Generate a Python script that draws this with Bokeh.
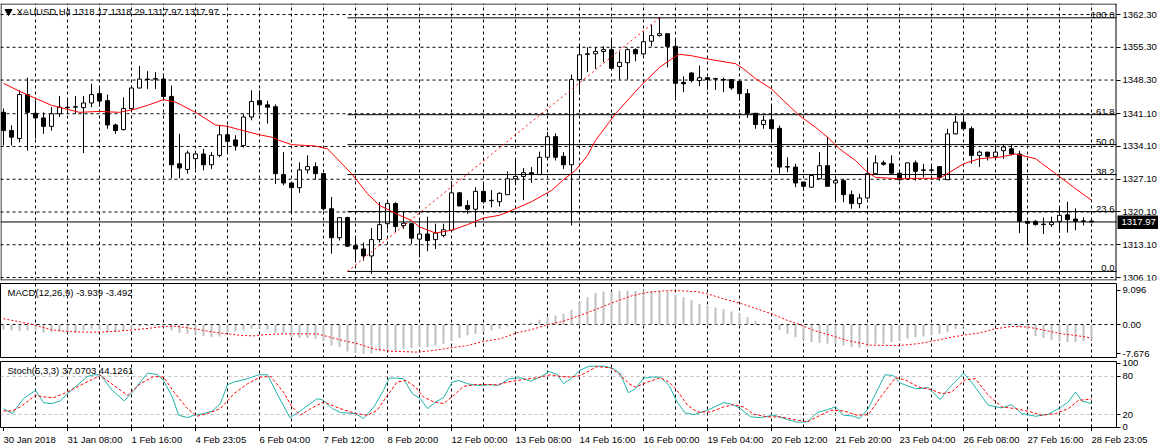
from bokeh.plotting import figure
from bokeh.layouts import column
from bokeh.models import Range1d, FixedTicker, PrintfTickFormatter, Grid, LinearAxis
from bokeh.core.properties import value
from bokeh.embed import file_html
from bokeh.resources import INLINE

FONT = "Liberation Sans"
FS = "9.5px"
FS_PX = 9.5

# ---------------- data ----------------
open_ = [1341.4, 1337.5, 1335.8, 1345.2, 1341.2, 1340.2, 1338.4, 1341.1, 1342.5, 1342.5,
 1342.4, 1343.4, 1345.4, 1343.9, 1338.7, 1337.7, 1342.2, 1346.6, 1348.5, 1348.5,
 1348.5, 1344.8, 1330.4, 1329.2, 1331.5, 1332.5, 1330.2, 1332.2, 1336.6, 1335.5,
 1334.3, 1340.4, 1343.9, 1343.0, 1342.6, 1328.1, 1326.3, 1325.3, 1329.1, 1329.8,
 1328.3, 1320.8, 1314.6, 1318.9, 1312.9, 1312.2, 1310.7, 1314.2, 1317.6, 1321.9,
 1317.2, 1317.6, 1314.3, 1315.4, 1314.2, 1315.1, 1316.2, 1324.2, 1321.5, 1320.7,
 1324.5, 1322.5, 1322.3, 1323.8, 1327.2, 1327.7, 1328.5, 1328.1, 1331.8, 1336.2,
 1332.0, 1330.2, 1348.4, 1353.9, 1353.9, 1354.4, 1354.8, 1351.2, 1352.0, 1354.8,
 1353.9, 1356.6, 1357.8, 1358.2, 1355.5, 1347.8, 1349.8, 1348.2, 1348.8, 1348.6,
 1348.4, 1348.4, 1348.0, 1345.4, 1341.2, 1338.8, 1339.8, 1338.0, 1329.8, 1329.7,
 1326.5, 1325.4, 1327.2, 1330.0, 1326.3, 1326.8, 1323.8, 1321.9, 1323.1, 1328.3,
 1330.6, 1330.4, 1328.4, 1327.2, 1330.6, 1329.1, 1329.1, 1329.8, 1327.0, 1336.8,
 1339.3, 1337.9, 1332.2, 1332.9, 1332.0, 1333.2, 1333.6, 1332.5, 1318.1, 1318.1,
 1317.4, 1317.4, 1318.1, 1319.5, 1318.6, 1318.1, 1318.17]
high = [1342.2, 1338.6, 1346.1, 1348.8, 1343.9, 1341.4, 1342.5, 1344.9, 1344.3, 1344.9,
 1344.9, 1347.5, 1346.8, 1345.2, 1339.0, 1344.6, 1347.1, 1351.3, 1350.2, 1350.0,
 1349.1, 1347.1, 1336.8, 1333.2, 1333.2, 1333.6, 1332.9, 1338.6, 1338.6, 1336.5,
 1341.1, 1346.1, 1346.1, 1343.9, 1343.1, 1332.9, 1326.3, 1330.7, 1332.2, 1330.7,
 1328.4, 1323.3, 1319.0, 1319.1, 1314.7, 1313.6, 1316.7, 1322.2, 1322.2, 1322.2,
 1320.3, 1317.7, 1318.3, 1319.1, 1317.6, 1317.6, 1326.7, 1324.3, 1322.6, 1325.4,
 1326.5, 1324.8, 1324.3, 1328.8, 1331.5, 1329.5, 1329.7, 1333.0, 1337.2, 1336.9,
 1332.9, 1349.5, 1355.7, 1355.3, 1355.3, 1355.5, 1357.1, 1354.4, 1355.1, 1355.1,
 1358.2, 1360.1, 1361.6, 1358.2, 1357.1, 1349.1, 1350.0, 1351.4, 1348.8, 1348.8,
 1348.8, 1348.4, 1348.0, 1346.4, 1341.2, 1340.7, 1343.2, 1338.6, 1331.8, 1330.4,
 1326.5, 1328.1, 1332.9, 1336.1, 1327.2, 1327.2, 1324.7, 1324.0, 1331.5, 1332.2,
 1331.1, 1332.2, 1328.6, 1330.6, 1331.1, 1330.4, 1330.0, 1329.8, 1337.9, 1340.7,
 1340.7, 1338.4, 1333.2, 1332.9, 1334.3, 1334.5, 1334.5, 1333.2, 1318.1, 1318.4,
 1318.9, 1319.1, 1321.3, 1322.3, 1320.9, 1319.0, 1318.29]
low = [1334.3, 1334.3, 1335.0, 1333.2, 1335.8, 1336.8, 1337.5, 1340.4, 1341.1, 1341.1,
 1332.7, 1342.5, 1342.9, 1337.9, 1336.8, 1337.5, 1341.8, 1346.5, 1346.4, 1346.4,
 1344.4, 1327.3, 1327.3, 1328.3, 1329.3, 1329.0, 1329.3, 1331.8, 1332.6, 1333.2,
 1333.9, 1339.7, 1341.4, 1339.0, 1326.1, 1325.8, 1319.7, 1324.2, 1328.3, 1327.0,
 1320.4, 1311.2, 1314.0, 1312.6, 1309.7, 1309.7, 1306.9, 1313.6, 1316.5, 1315.8,
 1316.5, 1313.3, 1310.4, 1311.7, 1312.2, 1314.7, 1315.8, 1321.3, 1319.7, 1316.9,
 1321.9, 1321.1, 1321.3, 1323.8, 1325.8, 1322.6, 1326.3, 1328.1, 1331.5, 1331.1,
 1329.3, 1317.2, 1345.2, 1350.0, 1350.7, 1352.1, 1350.7, 1348.4, 1348.4, 1352.3,
 1353.5, 1355.5, 1357.6, 1351.0, 1344.6, 1345.7, 1347.8, 1347.0, 1346.2, 1346.2,
 1345.7, 1346.2, 1343.9, 1340.2, 1337.9, 1337.9, 1335.4, 1328.3, 1328.6, 1325.4,
 1324.7, 1325.3, 1327.2, 1325.6, 1322.2, 1322.2, 1320.8, 1320.9, 1322.9, 1328.3,
 1330.0, 1328.3, 1326.8, 1327.0, 1326.8, 1327.5, 1328.3, 1326.8, 1327.0, 1336.7,
 1337.5, 1330.4, 1329.7, 1331.1, 1331.5, 1331.5, 1332.2, 1315.6, 1313.1, 1317.2,
 1315.4, 1316.9, 1315.7, 1315.7, 1316.2, 1317.2, 1317.97]
close = [1337.5, 1336.1, 1345.2, 1341.4, 1340.2, 1338.4, 1341.1, 1342.5, 1342.4, 1342.6,
 1343.4, 1345.2, 1343.8, 1338.7, 1337.5, 1342.2, 1346.6, 1348.5, 1348.4, 1348.6,
 1344.8, 1330.2, 1329.5, 1332.7, 1332.5, 1330.2, 1332.2, 1336.6, 1335.2, 1334.3,
 1340.4, 1343.7, 1343.0, 1342.5, 1328.3, 1326.3, 1325.3, 1329.1, 1329.8, 1328.3,
 1320.8, 1314.6, 1318.9, 1312.8, 1312.2, 1310.7, 1314.2, 1317.4, 1321.9, 1317.0,
 1317.7, 1314.5, 1315.4, 1314.0, 1315.6, 1316.3, 1324.2, 1321.4, 1320.7, 1324.5,
 1322.3, 1322.6, 1324.1, 1327.2, 1327.7, 1328.5, 1328.1, 1331.8, 1336.2, 1331.8,
 1330.2, 1348.4, 1353.7, 1353.8, 1354.4, 1354.8, 1350.8, 1352.1, 1354.8, 1353.9,
 1356.5, 1357.8, 1358.2, 1355.5, 1347.6, 1347.5, 1348.2, 1348.8, 1348.4, 1348.5,
 1348.3, 1346.6, 1345.4, 1341.2, 1338.8, 1339.7, 1337.9, 1329.7, 1329.7, 1326.3,
 1325.6, 1327.9, 1330.0, 1325.6, 1326.8, 1323.8, 1321.9, 1323.1, 1328.3, 1330.6,
 1330.3, 1328.4, 1327.0, 1330.6, 1328.8, 1329.0, 1329.0, 1327.5, 1336.8, 1339.3,
 1337.9, 1332.2, 1332.9, 1332.0, 1332.9, 1334.0, 1332.5, 1318.1, 1317.7, 1317.4,
 1317.5, 1317.9, 1319.4, 1318.5, 1318.1, 1318.2, 1317.97]

ma_x = [0, 2, 6, 9.5, 12, 14.5, 16.5, 18, 20, 21.5, 24, 26.5, 28, 29.5, 32, 33.5, 34.5, 36, 39, 40.5,
 43.5, 45.5, 47, 49.5, 51, 52, 54, 56, 58, 60, 62, 64, 66, 68.5, 70, 71.5, 73, 74, 76.5, 79.5,
 82, 83.5, 84.5, 86, 88, 91.5, 92.5, 94, 96, 97.5, 99.5, 101.5, 103, 104.5, 106.5, 108, 109, 112, 114.5, 117,
 118, 120, 122, 124.5, 126.5, 129, 131.5, 134, 136]
ma_v = [1347.6, 1345.9, 1342.9, 1341.4, 1341.6, 1341.4, 1342.1, 1342.9, 1344.1, 1343.6,
 1341.4, 1338.7, 1338.4, 1337.7, 1336.6, 1336.1, 1335.4, 1334.5, 1334.2, 1333.6,
 1328.3, 1324.0, 1321.5, 1319.4, 1318.3, 1316.9, 1315.6, 1316.2, 1317.4, 1318.8,
 1319.4, 1320.8, 1322.3, 1324.7, 1327.0, 1329.0, 1332.2, 1335.4, 1341.1, 1346.8,
 1351.0, 1352.8, 1353.8, 1353.5, 1352.8, 1351.8, 1350.7, 1348.6, 1346.4, 1343.9,
 1340.7, 1338.2, 1336.1, 1333.6, 1331.1, 1328.6, 1327.5, 1327.2, 1327.3, 1327.3,
 1328.3, 1330.4, 1331.5, 1331.8, 1332.5, 1331.5, 1328.3, 1325.1, 1322.6]

macd_hist = [-1.24, -1.5, -1.68, -1.5, -1.5, -2.1, -1.95, -1.77, -1.95, -2.12,
 -1.5, -1.06, -1.33, -1.95, -1.95, -1.5, -0.88, -0.44, -0.35, -0.35,
 -0.62, -1.5, -2.12, -2.39, -2.39, -3.0, -3.27, -3.1, -2.2, -1.77,
 -1.5, -1.06, -0.88, -1.33, -2.2, -2.2, -3.45, -3.45, -3.45, -3.7,
 -4.2, -5.5, -5.9, -7.1, -7.5, -7.676, -7.6, -6.8, -6.8, -6.8,
 -6.4, -6.1, -5.9, -5.9, -5.5, -5.0, -4.2, -3.45, -2.8, -2.4,
 -1.95, -1.5, -1.06, -0.44, 0.05, 0.44, 0.7, 1.33, 2.03, 2.48,
 2.9, 4.0, 6.0, 7.3, 8.4, 8.8, 8.8, 9.0, 9.05, 9.05,
 9.096, 9.05, 9.0, 8.8, 7.9, 7.3, 6.5, 5.6, 5.0, 4.6,
 4.1, 3.5, 2.9, 2.0, 1.0, 0.44, 0.1, -1.3, -2.4, -3.3,
 -4.0, -4.6, -4.8, -5.0, -5.2, -5.5, -5.9, -6.1, -5.9, -5.0,
 -5.0, -4.6, -4.2, -3.7, -3.3, -3.1, -2.8, -2.4, -1.95, -1.06,
 -0.62, -0.18, -0.05, 0.1, 0.2, 0.27, 0.2, -0.6, -1.3, -3.0,
 -3.45, -4.0, -4.4, -4.6, -4.6, -4.3, -3.939]
sig_x = [0, 2, 3.8, 6, 8, 10, 12.1, 14.2, 16.3, 18.4, 20, 21.3, 23, 24.6, 26.3, 28, 29.6, 31.3, 33, 35,
 36, 39.2, 40, 42.1, 44.2, 46.3, 48.4, 51.7, 53.8, 55.9, 58, 60, 62.1, 64.2, 65.9, 68, 70, 72.1,
 74.2, 76.3, 78.4, 80.5, 82.5, 84.2, 86.7, 88, 90, 92.1, 94.2, 96.3, 98, 99.6, 101.3, 103.4, 105.5, 107.5, 108.4,
 111.9, 114.4, 116.5, 118.5, 120.2, 121.9, 124, 126, 128.1, 130.2, 132.3, 133.9, 136]
sig_v = [1.6, 0.8, 0.0, -1.33, -1.77, -1.95, -1.95, -1.7, -1.33, -0.88, -0.44, -0.35, -0.8, -1.33, -1.95, -2.4, -2.8, -2.95, -2.56, -2.4,
 -2.4, -2.4, -2.83, -4.0, -5.0, -6.4, -7.0, -7.25, -6.8, -6.1, -5.5, -4.4, -3.7, -2.1, -1.33, 0.0, 0.97, 2.5,
 4.2, 6.0, 7.6, 8.6, 9.0, 9.05, 8.8, 8.2, 6.9, 5.7, 4.2, 2.7, 1.15, 0.0, -1.5, -2.8, -4.2, -5.0, -5.4,
 -5.5, -5.0, -4.2, -3.3, -2.65, -2.2, -1.06, -0.44, -0.6, -1.5, -2.4, -2.8, -3.492]

k_x = [0, 1.1, 2.5, 4, 5, 6, 7.1, 8.2, 9.2, 10.5, 11.3, 12.1, 13.6, 15.1, 16.3, 18, 19.2, 20, 21.1, 21.9, 23, 23.8, 25, 26.1, 27.1, 28, 28.8, 30.5, 31.9, 33, 34.2, 35.8,
 37.5, 39.2, 40, 41.1, 42.1, 44, 45, 46.3, 47.5, 48.2, 49.2, 50, 51.1, 52.1, 53, 54, 55, 56.1, 56.9, 58, 59.2, 60.9, 61.9, 63.2, 64.6, 65.9, 67.1, 68.2, 69.2, 70, 71.1, 72.1,
 73.2, 75.1, 76.3, 77.1, 78.1, 79, 80, 81.1, 82.1, 83.2, 84.2, 85.2, 86.3, 88, 90, 91.1, 92.1, 93.4, 94.6, 96.3, 98, 99.2, 100.5, 101.7, 103, 104, 105, 106.1, 107, 108.1,
 109, 110.2, 111.2, 112.1, 114, 115.6, 117.1, 118.1, 120, 121, 123.1, 124.8, 126, 127.3, 129, 130.6, 132.1, 133.1, 134, 134.8, 136]
k_v = [29.3, 21.6, 44.9, 57.8, 38.6, 37.1, 41.3, 55.3, 65.6, 79.6, 82.2, 82.2, 57.8, 41.3, 57.8, 84.8, 82.7, 73.4, 47.5, 19.0, 15.3, 19.0, 21.6, 25.7, 37.1, 66.6, 70.8, 76.0, 82.2, 82.2, 52.6, 15.0,
 29.3, 44.9, 42.3, 29.3, 23.1, 21.6, 13.8, 31.9, 57.8, 77.0, 77.0, 76.0, 52.6, 44.9, 29.3, 39.7, 46.4, 70.8, 73.4, 68.2, 65.6, 66.6, 65.6, 76.0, 77.5, 72.3, 78.6, 87.4, 82.7, 68.2, 77.5, 89.5,
 95.6, 95.6, 91.5, 83.7, 54.2, 60.4, 77.0, 78.6, 78.6, 65.6, 39.7, 22.6, 20.0, 26.7, 38.6, 36.1, 29.3, 16.4, 15.3, 19.0, 12.2, 8.1, 8.6, 23.1, 27.8, 31.9, 19.0, 17.9, 13.8, 29.3,
 52.6, 82.2, 81.2, 69.2, 60.4, 62.0, 43.3, 60.4, 84.8, 70.8, 34.5, 30.4, 35.5, 21.6, 17.4, 20.5, 30.9, 39.7, 55.3, 41.3, 37.07]
d_x = [0, 1.1, 2.1, 4, 5, 6.3, 8, 10, 12.1, 13.4, 15.5, 17.1, 18.8, 20, 21.3, 23, 24.2, 25.5, 27.1, 28.8, 30.5, 32.1, 33.4, 35, 36, 37.1, 38.4,
 40, 42.1, 44, 45.5, 46.7, 48, 49.2, 50.3, 51.5, 52.5, 53.8, 55, 56.3, 57.5, 59.2, 61.7, 63, 65, 66.7, 68.4, 69.6, 70.9, 72.1,
 74.2, 75.9, 76.9, 78.2, 79, 80.5, 82.1, 83.2, 84.2, 85.5, 86.7, 88.4, 90, 91.3, 92.5, 93.8, 95.5, 97.1, 98.8, 100.5, 102.1, 103.4, 105, 106.7, 108.1,
 109.8, 111.5, 112.7, 114.4, 116, 117.3, 118.5, 120.2, 121.5, 123.1, 124.8, 126.5, 128.1, 129.8, 131.5, 133.1, 134.4, 136]
d_v = [25.7, 25.7, 31.9, 50.1, 47.5, 46.4, 55.3, 68.2, 81.2, 69.2, 50.1, 68.2, 79.6, 78.6, 55.3, 29.3, 17.4, 21.6, 29.3, 52.6, 68.2, 78.6, 79.6, 55.0, 33.0, 19.0, 29.3,
 39.7, 29.3, 21.6, 19.0, 26.7, 50.1, 70.8, 73.4, 63.0, 47.5, 39.7, 37.1, 50.1, 64.1, 67.2, 66.6, 70.8, 74.9, 77.5, 82.2, 79.6, 78.6, 81.0,
 95.1, 93.0, 83.7, 68.2, 63.0, 70.8, 77.5, 70.8, 57.8, 34.5, 24.1, 24.1, 31.9, 35.5, 31.9, 20.5, 16.4, 16.4, 12.2, 8.6, 19.0, 26.7, 25.7, 19.0, 20.0,
 50.1, 77.5, 74.4, 63.0, 58.8, 52.6, 55.3, 74.4, 76.0, 50.1, 31.9, 29.3, 25.1, 19.0, 21.6, 29.3, 42.3, 44.13]

time_idx = [0, 8, 16, 24, 32, 40, 48, 56, 64, 72, 80, 88, 96, 104, 112, 120, 128, 136]
time_labels = ["30 Jan 2018", "31 Jan 08:00", "1 Feb 16:00", "4 Feb 23:05", "6 Feb 04:00",
               "7 Feb 12:00", "8 Feb 20:00", "12 Feb 00:00", "13 Feb 08:00", "14 Feb 16:00",
               "16 Feb 00:00", "19 Feb 04:00", "20 Feb 12:00", "21 Feb 20:00", "23 Feb 04:00",
               "26 Feb 08:00", "27 Feb 16:00", "28 Feb 23:05"]
price_ticks = [1306.1, 1313.1, 1320.1, 1327.1, 1334.1, 1341.1, 1348.3, 1355.3, 1362.3]
macd_ticks = [-7.676, 0.0, 9.096]
macd_tick_labels = ["-7.676", "0.00", "9.096"]
stoch_ticks = [0, 20, 80, 100]
stoch_levels = [20, 80]

fib_levels = [0.0, 23.6, 38.2, 50.0, 61.8, 100.0]
fib_labels = ["0.0", "23.6", "38.2", "50.0", "61.8", "100.0"]
fib_low, fib_high = 1307.4, 1361.6
fib_start, fib_end = 43, 82
last_price = 1317.97
last_price_text = "1317.97"
title_main = "XAUUSD,H4  1318.17 1318.29 1317.97 1317.97"
title_macd = "MACD(12,26,9) -3.939 -3.492"
title_stoch = "Stoch(5,3,3) 37.0703 44.1261"

# ---------------- layout ----------------
N = len(close)
xs = list(range(N))
FRAME_W = 1116
PAGE_W = 1158
X0 = -0.375
X1 = X0 + FRAME_W / 8.0          # right edge of the chart area
XP = X0 + PAGE_W / 8.0           # right edge of the page
xr = Range1d(X0, X1)

P_TOP, P_BOT, P_H, P_T = 1364.66, 1305.46, 277, 3
M_TOP, M_BOT, M_H, M_T = 10.95, -8.94, 75, 283
S_TOP, S_BOT, S_H, S_T = 102.95, -0.2, 66, 361
DY = (P_TOP - P_BOT) / P_H        # price units per pixel in main pane

# Liberation Sans (Arial-metric) advance widths, per 1000 em
ADV = {" ": 278, ":": 278, "J": 500, "F": 611}


def text_px(txt):
    return sum(ADV.get(ch, 556) for ch in txt) * FS_PX / 1000.0


def px_x(px):
    return X0 + px / 8.0


def py(pyv, top, bot, h, t):
    return top - (pyv - t) * (top - bot) / h


def style_axis(ax):
    ax.axis_line_color = None
    ax.major_tick_in = 0
    ax.major_tick_out = 4
    ax.minor_tick_in = 0
    ax.minor_tick_out = 0
    ax.major_tick_line_color = "black"
    ax.major_label_standoff = 2
    ax.major_label_text_font = FONT
    ax.major_label_text_font_size = FS
    ax.major_label_text_color = "black"


def vgrid():
    return Grid(dimension=0, ticker=FixedTicker(ticks=list(range(4, N, 4))),
                grid_line_color="black", grid_line_dash="3 3", grid_line_width=1)


def mk(h, border_top, border_bottom, yr):
    p = figure(frame_width=FRAME_W, frame_height=h, x_range=xr, y_range=yr,
               output_backend="svg", toolbar_location=None, tools="",
               x_axis_location=None, y_axis_location="right",
               min_border_left=0, min_border_right=42,
               min_border_top=border_top, min_border_bottom=border_bottom)
    p.outline_line_color = "black"
    p.outline_line_alpha = 1.0
    p.outline_line_width = 1
    p.background_fill_color = "white"
    p.border_fill_color = "white"
    p.grid.visible = False
    for ax in p.yaxis:
        style_axis(ax)
    p.add_layout(vgrid())
    return p


# ---- main pane: frame spans the page, price scale drawn at the chart's right edge ----
p1 = figure(frame_width=PAGE_W, frame_height=P_H, x_range=Range1d(X0, XP),
            y_range=Range1d(P_BOT, P_TOP), output_backend="svg", toolbar_location=None,
            tools="", x_axis_location=None, y_axis_location="right",
            min_border_left=0, min_border_right=0, min_border_top=P_T, min_border_bottom=3)
p1.outline_line_color = None
p1.background_fill_color = "white"
p1.border_fill_color = "white"
p1.grid.visible = False
pax = p1.yaxis[0]
style_axis(pax)
pax.fixed_location = X1
pax.ticker = FixedTicker(ticks=price_ticks)
pax.formatter = PrintfTickFormatter(format="%.2f")
p1.add_layout(vgrid())
# horizontal price grid, limited to the chart area
p1.segment(x0=[X0] * len(price_ticks), y0=price_ticks, x1=[X1] * len(price_ticks), y1=price_ticks,
           line_color="black", line_dash="3 3", line_width=1, level="underlay")
# pane border
p1.segment(x0=[X0, X0, px_x(0.5), px_x(FRAME_W - 0.5)],
           y0=[P_TOP - 0.5 * DY, P_BOT + 0.5 * DY, P_BOT, P_BOT],
           x1=[X1, X1, px_x(0.5), px_x(FRAME_W - 0.5)],
           y1=[P_TOP - 0.5 * DY, P_BOT + 0.5 * DY, P_TOP, P_TOP],
           line_color="black", line_width=1)

body_top = [max(o, c) for o, c in zip(open_, close)]
body_bot = [min(o, c) for o, c in zip(open_, close)]
fills = ["white" if c >= o else "black" for o, c in zip(open_, close)]
p1.segment(x0=xs, y0=low, x1=xs, y1=high, line_color="black", line_width=1)
p1.vbar(x=xs, top=body_top, bottom=body_bot, width=0.5, fill_color=fills,
        line_color="black", line_width=1)

fib_prices = [fib_low + (fib_high - fib_low) * l / 100.0 for l in fib_levels]
p1.segment(x0=[fib_start] * len(fib_prices), y0=fib_prices, x1=[X1] * len(fib_prices), y1=fib_prices,
           line_color="black", line_width=1)
p1.text(x=[px_x(1114)] * len(fib_prices), y=fib_prices, text=fib_labels,
        text_align="right", text_baseline="bottom", text_font=value(FONT),
        text_font_size=FS, text_color="black")
p1.line([fib_start, fib_end], [fib_low, fib_high], line_color="red", line_dash="2 3", line_width=1)
# current price line and its marker on the price scale
p1.segment(x0=[X0], y0=[last_price], x1=[X1], y1=[last_price], line_color="black", line_width=1)
p1.line(ma_x, ma_v, line_color="red", line_width=1)
p1.quad(left=[px_x(FRAME_W + 1)], right=[XP], bottom=[last_price - 7 * DY],
        top=[last_price + 6.5 * DY], fill_color="black", line_color=None)
p1.text(x=[px_x(FRAME_W + 5)], y=[last_price], text=[last_price_text], text_align="left",
        text_baseline="middle", text_font=value(FONT), text_font_size=FS, text_color="white")

ty = py(11, P_TOP, P_BOT, P_H, P_T)
p1.scatter(x=[px_x(8)], y=[ty], marker="inverted_triangle", size=7, color="black")
p1.text(x=[px_x(16)], y=[ty], text=[title_main], text_align="left", text_baseline="middle",
        text_font=value(FONT), text_font_size=FS, text_color="black")

# ---- MACD pane ----
p2 = mk(M_H, 0, 0, Range1d(M_BOT, M_TOP))
p2.yaxis.ticker = FixedTicker(ticks=macd_ticks)
p2.yaxis.major_label_overrides = dict(zip(macd_ticks, macd_tick_labels))
p2.add_layout(Grid(dimension=1, ticker=FixedTicker(ticks=[0.0]),
                   grid_line_color="black", grid_line_dash="3 3", grid_line_width=1))
p2.vbar(x=xs, top=macd_hist, bottom=0, width=0.25, fill_color="#c0c0c0", line_color=None)
p2.line(sig_x, sig_v, line_color="red", line_dash="2 2", line_width=1)
p2.text(x=[px_x(7)], y=[py(291.5, M_TOP, M_BOT, M_H, M_T)], text=[title_macd],
        text_align="left", text_baseline="middle", text_font=value(FONT),
        text_font_size=FS, text_color="black")

# ---- Stochastic pane ----
p3 = mk(S_H, 3, 0, Range1d(S_BOT, S_TOP))
p3.yaxis.ticker = FixedTicker(ticks=stoch_ticks)
p3.add_layout(Grid(dimension=1, ticker=FixedTicker(ticks=stoch_levels),
                   grid_line_color="#c0c0c0", grid_line_dash="3 3", grid_line_width=1))
tick_axis = LinearAxis(ticker=FixedTicker(ticks=time_idx))
style_axis(tick_axis)
tick_axis.major_label_overrides = {i: "" for i in time_idx}
tick_axis.major_label_text_font_size = "1px"
tick_axis.major_label_standoff = 0
p3.add_layout(tick_axis, "below")

p3.line(k_x, k_v, line_color="#20B2AA", line_width=1)
p3.line(d_x, d_v, line_color="red", line_dash="3 2", line_width=1)
p3.text(x=[px_x(7)], y=[py(370, S_TOP, S_BOT, S_H, S_T)], text=[title_stoch],
        text_align="left", text_baseline="middle", text_font=value(FONT),
        text_font_size=FS, text_color="black")

# ---- time scale strip: labels start at their tick (MT4 style) ----
label_pos = [i + text_px(t) / 2.0 / 8.0 for i, t in zip(time_idx, time_labels)]
p4 = figure(frame_width=PAGE_W, frame_height=1, x_range=Range1d(X0, XP),
            y_range=Range1d(0, 1), output_backend="svg", toolbar_location=None, tools="",
            x_axis_location=None, y_axis_location=None,
            min_border_left=0, min_border_right=0, min_border_top=0, min_border_bottom=0)
p4.outline_line_color = None
p4.grid.visible = False
p4.background_fill_color = "white"
p4.border_fill_color = "white"
p4.line([X0, X0 + 1], [0.5, 0.5], line_alpha=0)
time_axis = LinearAxis(ticker=FixedTicker(ticks=label_pos))
style_axis(time_axis)
time_axis.major_tick_out = 0
time_axis.major_label_standoff = 1
time_axis.major_label_overrides = {pos: t for pos, t in zip(label_pos, time_labels)}
p4.add_layout(time_axis, "below")

layout = column(p1, p2, p3, p4, spacing=0)
open("out.html", "w").write(file_html(layout, INLINE))
